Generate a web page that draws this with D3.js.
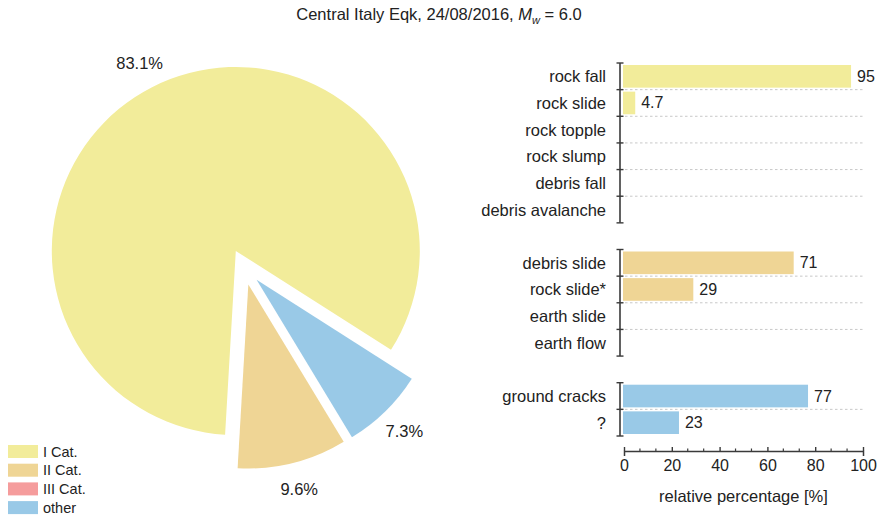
<!DOCTYPE html>
<html>
<head>
<meta charset="utf-8">
<script src="https://cdn.jsdelivr.net/npm/d3@7"></script>
<style>
  html, body { margin: 0; padding: 0; background: #fff; }
  svg { display: block; font-family: "Liberation Sans", Arial, Helvetica, sans-serif; }
</style>
</head>
<body>
<svg id="chart" width="880" height="516"></svg>
<script>
// Landslide categories (pie) and relative percentages per type (bars)
const catLabels = ["I Cat.", "II Cat.", "III Cat.", "other"];
const catValues = [83.1, 9.6, 0, 7.3];
const catColors = ["#f2ec9a", "#efd595", "#f59c9c", "#99c9e7"];

const group1Labels = ["rock fall", "rock slide", "rock topple", "rock slump", "debris fall", "debris avalanche"];
const group1Values = [95, 4.7, 0, 0, 0, 0];
const group2Labels = ["debris slide", "rock slide*", "earth slide", "earth flow"];
const group2Values = [71, 29, 0, 0];
const group3Labels = ["ground cracks", "?"];
const group3Values = [77, 23];

const xTickValues = [0, 20, 40, 60, 80, 100];
const titleText = "Central Italy Eqk, 24/08/2016, ";

const svg = d3.select("#chart");
const ink = "#222";
const axisInk = "#3a3a3a";

// ---- Title ----
const title = svg.append("text")
  .attr("x", 439).attr("y", 20)
  .attr("text-anchor", "middle")
  .attr("font-size", 16.5)
  .attr("fill", ink);
title.append("tspan").text(titleText);
title.append("tspan").attr("font-style", "italic").text("M");
title.append("tspan").attr("font-size", 11).attr("font-style", "italic").attr("dy", 4).text("w");
title.append("tspan").attr("dy", -4).text(" = 6.0");

// ---- Exploded pie ----
const deg = Math.PI / 180;
const pieCx = 244, pieCy = 267, pieR = 184, explode = 18;
const pie = d3.pie().sort(null)
  .startAngle(482.5 * deg)
  .endAngle(122.5 * deg)
  .value(d => d.value);
const pieData = pie(catLabels.map((l, i) => ({ label: l, value: catValues[i], color: catColors[i] })));
const arc = d3.arc().innerRadius(0).outerRadius(pieR);

const pieG = svg.append("g").attr("transform", `translate(${pieCx},${pieCy})`);
const slices = pieG.selectAll("g.slice")
  .data(pieData.filter(d => d.data.value > 0))
  .join("g")
  .attr("class", "slice")
  .attr("transform", d => {
    const a = (d.startAngle + d.endAngle) / 2;
    return `translate(${explode * Math.sin(a)},${-explode * Math.cos(a)})`;
  });
slices.append("path")
  .attr("d", arc)
  .attr("fill", d => d.data.color);
slices.append("text")
  .attr("x", d => 1.148 * pieR * Math.sin((d.startAngle + d.endAngle) / 2))
  .attr("y", d => -1.148 * pieR * Math.cos((d.startAngle + d.endAngle) / 2))
  .attr("text-anchor", "middle")
  .attr("dominant-baseline", "central")
  .attr("font-size", 16.5)
  .attr("fill", ink)
  .text(d => d3.format(".1f")(d.data.value) + "%");

// ---- Legend ----
const legend = svg.append("g").attr("transform", "translate(8,445)");
const lg = legend.selectAll("g").data(catLabels).join("g")
  .attr("transform", (d, i) => `translate(0,${i * 18.7})`);
lg.append("rect").attr("width", 30).attr("height", 13)
  .attr("fill", (d, i) => catColors[i]);
lg.append("text").attr("x", 35).attr("y", 6.5)
  .attr("dominant-baseline", "central")
  .attr("font-size", 14.5).attr("fill", ink)
  .text(d => d);

// ---- Grouped horizontal bars ----
const groups = [
  { labels: group1Labels, values: group1Values, color: catColors[0] },
  { labels: group2Labels, values: group2Values, color: catColors[1] },
  { labels: group3Labels, values: group3Values, color: catColors[3] }
];
// one band per row, with an empty band between groups
const rowKeys = [];
groups.forEach((g, gi) => {
  if (gi > 0) rowKeys.push("gap" + gi);
  g.labels.forEach((l, i) => rowKeys.push(gi + ":" + i));
});
const y = d3.scaleBand().domain(rowKeys).range([63, 436]).paddingInner(0.15).paddingOuter(0.075);
const x = d3.scaleLinear().domain([0, 100]).range([624, 863]);
const axisX = 620;
const step = y.step();

const barsG = svg.append("g");
groups.forEach((g, gi) => {
  const keys = g.labels.map((l, i) => gi + ":" + i);
  const bandTop = k => y(k) - (step - y.bandwidth()) / 2;
  const gTop = bandTop(keys[0]);
  const gBot = bandTop(keys[keys.length - 1]) + step;
  const gg = barsG.append("g");

  // dotted separators between rows
  gg.selectAll("line.sep").data(keys.slice(1)).join("line")
    .attr("class", "sep")
    .attr("x1", axisX).attr("x2", x(100))
    .attr("y1", k => bandTop(k)).attr("y2", k => bandTop(k))
    .attr("stroke", "#c8c8c8").attr("stroke-width", 1)
    .attr("stroke-dasharray", "2.5,2.5");

  // bars
  gg.selectAll("rect").data(g.values.map((v, i) => ({ v, k: keys[i] })).filter(d => d.v > 0))
    .join("rect")
    .attr("x", x(0) - 1)
    .attr("y", d => y(d.k))
    .attr("width", d => x(d.v) - x(0) + 1)
    .attr("height", y.bandwidth())
    .attr("fill", g.color);

  // value labels
  gg.selectAll("text.val").data(g.values.map((v, i) => ({ v, k: keys[i] })).filter(d => d.v > 0))
    .join("text")
    .attr("class", "val")
    .attr("x", d => x(d.v) + 6)
    .attr("y", d => y(d.k) + y.bandwidth() / 2)
    .attr("dominant-baseline", "central")
    .attr("font-size", 16)
    .attr("fill", ink)
    .text(d => d.v);

  // category labels
  gg.selectAll("text.cat").data(g.labels.map((l, i) => ({ l, k: keys[i] })))
    .join("text")
    .attr("class", "cat")
    .attr("x", 606)
    .attr("y", d => bandTop(d.k) + step / 2)
    .attr("text-anchor", "end")
    .attr("dominant-baseline", "central")
    .attr("font-size", 16.5)
    .attr("fill", ink)
    .text(d => d.l);

  // vertical axis segment with caps and row ticks
  gg.append("line")
    .attr("x1", axisX).attr("x2", axisX)
    .attr("y1", gTop).attr("y2", gBot)
    .attr("stroke", axisInk).attr("stroke-width", 1.6);
  const tickYs = [gTop].concat(keys.slice(1).map(bandTop), [gBot]);
  gg.selectAll("line.tk").data(tickYs).join("line")
    .attr("class", "tk")
    .attr("x1", axisX - 3.5).attr("x2", axisX + 3.5)
    .attr("y1", d => d).attr("y2", d => d)
    .attr("stroke", axisInk).attr("stroke-width", 1.4);
});

// ---- Bottom axis ----
const axisY = 451;
const xAxisG = svg.append("g").attr("transform", `translate(0,${axisY})`);
const xAxis = d3.axisBottom(x)
  .tickValues(xTickValues)
  .tickSizeInner(-4)
  .tickSizeOuter(5)
  .tickPadding(9)
  .tickFormat(d3.format("d"));
xAxisG.call(xAxis);
xAxisG.select(".domain").attr("stroke", axisInk).attr("stroke-width", 1.5);
xAxisG.selectAll(".tick line").attr("stroke", axisInk).attr("stroke-width", 1.4);
xAxisG.selectAll(".tick text")
  .attr("font-size", 16).attr("fill", ink)
  .attr("font-family", "Liberation Sans, Arial, sans-serif")
  .attr("y", 9).attr("dy", "0.71em");
// minor ticks at thirds of each labelled interval
const minorTicks = d3.range(0, 15).map(i => i * 20 / 3).filter((v, i) => i % 3 !== 0);
xAxisG.selectAll("line.minor").data(minorTicks).join("line")
  .attr("class", "minor")
  .attr("x1", d => x(d)).attr("x2", d => x(d))
  .attr("y1", 0).attr("y2", -2.5)
  .attr("stroke", axisInk).attr("stroke-width", 1.2);

svg.append("text")
  .attr("x", x(50)).attr("y", 502)
  .attr("text-anchor", "middle")
  .attr("font-size", 16.5)
  .attr("fill", ink)
  .text("relative percentage [%]");
</script>
</body>
</html>
